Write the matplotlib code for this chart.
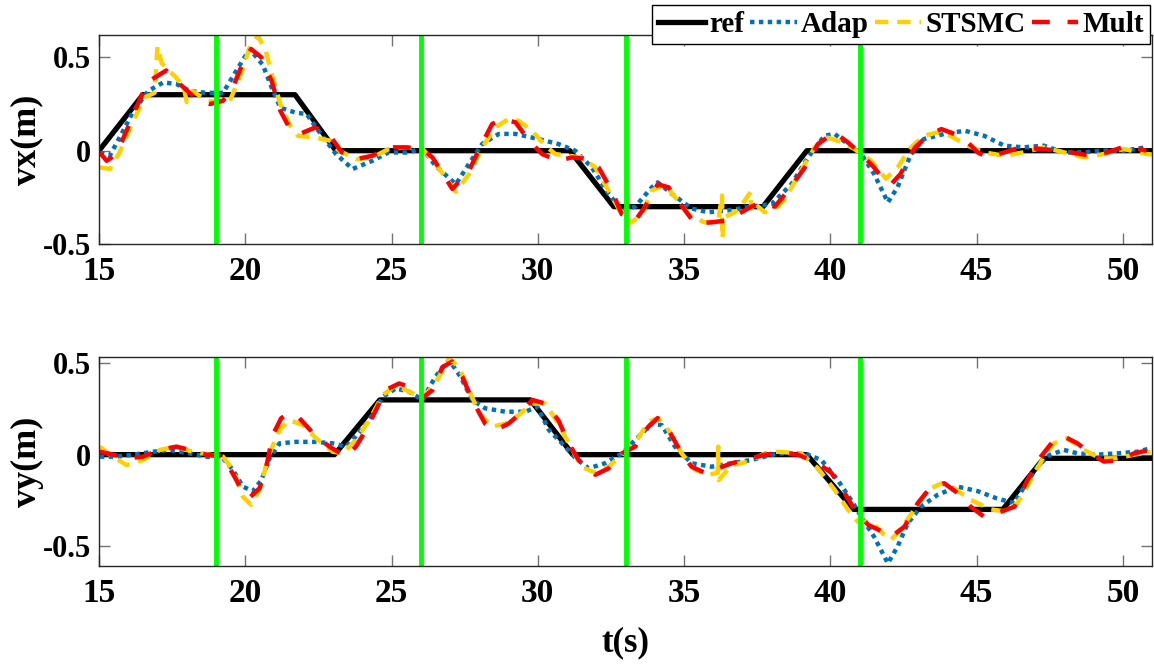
import matplotlib
matplotlib.use("Agg")
import matplotlib.pyplot as plt

# ---- data ----
t_vx_ref = [15, 16.5, 21.7, 23.1, 31.1, 32.6, 37.7, 39.2, 51]
vx_ref = [0, 0.3, 0.3, 0, 0, -0.3, -0.3, 0, 0]

t_vx_adap = [15.03, 15.375, 15.77, 16.17, 16.68, 17.2, 17.65, 18.1, 18.67, 19.24, 19.7, 20.15,
             20.6, 20.9, 21.2, 21.7, 22.1, 22.5, 23.1, 23.67, 24.35, 24.9, 25.5, 26.06, 26.5,
             27.2, 27.65, 28.1, 28.67, 29.24, 30.03, 30.7, 31.28, 31.85, 32.42, 32.87, 33.33,
             33.9, 34.1, 34.58, 35.26, 35.83, 36.5, 37.3, 37.99, 38.67, 39.24, 39.8, 40.15,
             40.6, 41.06, 41.5, 41.97, 42.3, 42.76, 43.2, 43.9, 44.6, 45.26, 45.95, 46.6, 47.3,
             47.99, 48.67, 49.35, 50.04, 50.8]
vx_adap = [-0.01, -0.025, 0.09, 0.21, 0.32, 0.366, 0.357, 0.32, 0.31, 0.31, 0.43, 0.545,
           0.46, 0.34, 0.23, 0.205, 0.196, 0.107, -0.018, -0.098, -0.054, -0.009, -0.01, 0.01, -0.08,
           -0.18, -0.07, 0.036, 0.09, 0.09, 0.0625, 0.036, 0.0, -0.09, -0.23, -0.32, -0.30,
           -0.196, -0.17, -0.23, -0.31, -0.33, -0.32, -0.30, -0.286, -0.18, -0.036, 0.08, 0.09,
           0.036, -0.018, -0.125, -0.277, -0.196, -0.018, 0.0625, 0.09, 0.107, 0.08, 0.027, 0.018, 0.027,
           -0.009, -0.009, 0.0, 0.0, 0.018]

t_vx_stsmc = [15.03, 15.375, 15.7, 16.17, 16.57, 16.9, 17.0, 17.14, 17.65, 17.9, 18.0, 18.2,
              18.67, 19.24, 19.5, 19.8, 20.15, 20.43, 20.7, 20.94, 21.2, 21.5, 21.8, 22.4, 22.9,
              23.2, 23.8, 24.35, 24.9, 25.5, 26.06, 26.5, 27.2, 27.65, 28.1, 28.56, 29.0, 29.35,
              29.8, 30.26, 30.6, 31.06, 31.5, 31.97, 32.42, 32.87, 33.2, 33.56, 33.9, 34.35, 34.7,
              35.15, 35.7, 36.17, 36.3, 36.32, 36.34, 36.85, 37.28, 37.3, 37.32, 37.76, 38.2,
              38.45, 39.0, 39.47, 39.92, 40.4, 40.83, 41.4, 41.9, 42.3, 42.76, 43.2, 43.67, 44.1,
              44.7, 45.26, 45.95, 46.6, 47.3, 47.99, 48.67, 49.35, 50.04, 50.8, 51.0]
vx_stsmc = [-0.09, -0.098, -0.01, 0.16, 0.286, 0.31, 0.56, 0.47, 0.39, 0.34, 0.26, 0.32,
            0.27, 0.25, 0.277, 0.39, 0.55, 0.616, 0.536, 0.39, 0.25, 0.143, 0.08, 0.07, 0.054,
            0.0, -0.045, -0.036, 0.009, 0.018, 0.01, -0.07, -0.22, -0.125, 0.018, 0.125, 0.17, 0.16,
            0.107, 0.027, -0.018, -0.027, -0.036, -0.09, -0.214, -0.34, -0.385, -0.34, -0.214, -0.18, -0.25,
            -0.34, -0.384, -0.375, -0.24, -0.47, -0.36, -0.32, -0.22, -0.31, -0.27, -0.33, -0.30,
            -0.26, -0.107, 0.018, 0.07, 0.045, 0.009, -0.054, -0.15, -0.09, 0.018, 0.08, 0.098, 0.08,
            0.027, -0.009, -0.027, -0.009, 0.018, -0.009, -0.036, -0.018, 0.009, -0.018, -0.02]

t_vx_mult = [15.03, 15.26, 15.6, 15.94, 16.4, 16.68, 17.3, 17.7, 18.33, 18.8, 19.24, 19.58,
             19.9, 20.2, 20.55, 20.9, 21.2, 21.5, 21.85, 22.4, 22.9, 23.3, 23.8, 24.35, 24.9,
             25.5, 26.06, 26.4, 27.08, 27.65, 28.0, 28.44, 28.8, 29.24, 29.7, 30.15, 30.7, 31.17,
             31.74, 32.08, 32.53, 32.87, 33.33, 33.67, 34.1, 34.47, 35.04, 35.37, 35.94, 36.4,
             36.85, 37.3, 37.65, 38.1, 38.56, 39.13, 39.58, 40.15, 40.6, 41.06, 41.5, 41.85,
             42.08, 42.4, 42.9, 43.33, 43.8, 44.24, 44.7, 45.04, 45.38, 45.95, 46.5, 47.2, 47.88,
             48.9, 49.47, 50.15, 50.8]
vx_mult = [-0.01, -0.054, -0.018, 0.107, 0.277, 0.37, 0.43, 0.366, 0.277, 0.25, 0.268, 0.34,
           0.464, 0.545, 0.5, 0.375, 0.214, 0.125, 0.089, 0.125, 0.08, -0.009, -0.045, -0.027, 0.018,
           0.018, 0.009, -0.036, -0.205, -0.107, 0.009, 0.143, 0.17, 0.152, 0.054, -0.018, -0.054, -0.036,
           -0.045, -0.09, -0.214, -0.34, -0.375, -0.30, -0.18, -0.196, -0.32, -0.39, -0.384, -0.375,
           -0.34, -0.30, -0.277, -0.30, -0.214, -0.09, 0.036, 0.098, 0.045, -0.018, -0.09, -0.16,
           -0.18, -0.125, 0.018, 0.08, 0.116, 0.09, 0.045, -0.009, -0.036, -0.009, 0.018, 0.009, 0.0,
           -0.027, -0.009, 0.027, 0.0]

t_vy_ref = [15, 23.05, 24.6, 29.75, 31.2, 39.2, 40.8, 45.9, 47.3, 51]
vy_ref = [0, 0, 0.3, 0.3, 0, 0, -0.3, -0.3, -0.02, -0.02]

t_vy_adap = [15.03, 15.6, 16.17, 16.85, 17.4, 18.1, 18.67, 19.24, 19.58, 19.92, 20.26, 20.55,
             20.83, 21.17, 21.74, 22.4, 22.99, 23.44, 23.78, 24.24, 24.7, 25.15, 25.6, 26.06,
             26.5, 26.97, 27.36, 27.76, 28.2, 28.9, 29.58, 29.98, 30.38, 30.83, 31.3, 31.74,
             32.3, 32.88, 33.33, 33.9, 34.24, 34.69, 35.26, 35.94, 36.63, 37.3, 38.2, 39.13,
             39.7, 40.26, 40.72, 41.06, 41.5, 41.97, 42.3, 42.65, 43.1, 43.67, 44.35, 45.04,
             45.7, 46.3, 46.63, 47.08, 47.5, 47.99, 48.45, 49.1, 49.8, 50.5, 50.95]
vy_adap = [-0.011, -0.011, 0.0, 0.016, 0.026, 0.007, -0.011, -0.02, -0.084, -0.175, -0.2, -0.14,
           -0.02, 0.062, 0.07, 0.07, 0.062, 0.044, 0.1, 0.19, 0.317, 0.363, 0.345, 0.3,
           0.427, 0.518, 0.427, 0.3, 0.254, 0.235, 0.235, 0.263, 0.135, 0.062, -0.02, -0.075,
           -0.047, 0.007, 0.08, 0.17, 0.162, 0.044, -0.047, -0.066, -0.047, -0.029, 0.007, 0.007,
           -0.03, -0.14, -0.25, -0.34, -0.45, -0.595, -0.504, -0.376, -0.285, -0.22, -0.175, -0.2,
           -0.24, -0.266, -0.175, -0.066, -0.002, 0.026, 0.007, 0.0, 0.007, 0.016, 0.035]

t_vy_stsmc = [15.03, 15.375, 15.94, 16.5, 17.08, 17.65, 18.2, 18.78, 19.24, 19.58, 19.92, 20.2,
              20.49, 20.83, 21.17, 21.5, 21.97, 22.42, 22.99, 23.33, 23.78, 24.24, 24.7, 25.15,
              25.6, 26.06, 26.5, 26.97, 27.3, 27.65, 28.0, 28.44, 28.9, 29.35, 29.81, 30.26,
              30.7, 31.06, 31.5, 31.97, 32.42, 32.88, 33.33, 33.78, 34.1, 34.47, 34.92, 35.38,
              35.83, 36.15, 36.17, 36.19, 36.63, 37.2, 37.76, 38.2, 39.0, 39.58, 40.15, 40.6,
              40.94, 41.4, 41.85, 42.08, 42.4, 42.88, 43.33, 43.8, 44.24, 44.8, 45.5, 45.95,
              46.4, 46.85, 47.3, 47.65, 48.1, 48.67, 49.24, 49.8, 50.4, 50.95]
vy_stsmc = [0.044, 0.0, -0.057, -0.03, 0.026, 0.044, 0.016, 0.0, -0.011, -0.084, -0.23, -0.275,
            -0.19, 0.007, 0.135, 0.19, 0.162, 0.09, 0.016, 0.007, 0.08, 0.19, 0.327, 0.38,
            0.345, 0.31, 0.39, 0.527, 0.48, 0.354, 0.226, 0.153, 0.17, 0.217, 0.28, 0.28,
            0.17, 0.062, -0.066, -0.1, -0.066, 0.0, 0.062, 0.18, 0.2, 0.135, 0.007, -0.084,
            -0.11, -0.1, 0.044, -0.139, -0.057, -0.038, 0.007, 0.016, 0.007, -0.075, -0.193, -0.3,
            -0.367, -0.367, -0.44, -0.467, -0.41, -0.3, -0.193, -0.157, -0.184, -0.248, -0.3, -0.31,
            -0.266, -0.14, -0.011, 0.062, 0.09, 0.026, -0.02, -0.02, 0.0, 0.016]

t_vy_mult = [15.03, 15.5, 15.94, 16.5, 17.08, 17.65, 18.1, 18.67, 19.24, 19.7, 19.92, 20.15,
             20.49, 20.72, 20.94, 21.23, 21.5, 21.85, 22.42, 22.88, 23.44, 23.78, 24.13, 24.47,
             24.8, 25.26, 25.6, 26.06, 26.4, 26.74, 27.08, 27.42, 27.76, 28.2, 28.56, 29.0,
             29.47, 29.81, 30.26, 30.7, 31.06, 31.4, 31.97, 32.42, 32.88, 33.33, 33.78, 34.1,
             34.47, 34.92, 35.26, 35.72, 36.17, 36.63, 37.3, 37.76, 38.2, 38.9, 39.58, 40.04,
             40.49, 40.83, 41.3, 41.63, 42.08, 42.54, 42.99, 43.45, 43.9, 44.35, 44.8, 45.26,
             45.7, 46.3, 46.74, 47.2, 47.65, 47.99, 48.45, 48.9, 49.35, 49.9, 50.38, 50.95]
vy_mult = [0.016, 0.0, -0.02, -0.011, 0.026, 0.044, 0.026, 0.0, -0.011, -0.14, -0.21, -0.235,
           -0.184, -0.066, 0.108, 0.2, 0.226, 0.2, 0.1, 0.044, -0.011, 0.044, 0.135, 0.245,
           0.354, 0.39, 0.372, 0.31, 0.354, 0.48, 0.51, 0.427, 0.3, 0.17, 0.135, 0.17,
           0.235, 0.3, 0.28, 0.19, 0.062, -0.03, -0.11, -0.075, 0.007, 0.044, 0.153, 0.2,
           0.135, 0.007, -0.066, -0.1, -0.075, -0.047, -0.02, 0.0, 0.007, 0.0, -0.047, -0.1,
           -0.21, -0.3, -0.385, -0.41, -0.45, -0.394, -0.266, -0.175, -0.157, -0.21, -0.285, -0.34,
           -0.32, -0.285, -0.14, -0.011, 0.08, 0.1, 0.062, 0.007, -0.038, -0.03, 0.007, 0.026]

switch_times = [19, 26, 33, 41]
x_ticks = [15, 20, 25, 30, 35, 40, 45, 50]
y_ticks = [-0.5, 0, 0.5]
y_tick_labels = ['-0.5', '0', '0.5']

# ---- style ----
plt.rcParams['font.family'] = 'Liberation Serif'
plt.rcParams['font.weight'] = 'bold'
plt.rcParams['axes.unicode_minus'] = False

c_blue = '#0072BD'
c_yellow = '#FFD000'
c_red = '#FF0000'
c_green = '#00FF00'
lw = 3.2

fig = plt.figure(figsize=(11.54, 6.67), dpi=100)
ax1 = fig.add_axes([99/1154, 1-244/667, 1053/1154, 209/667])
ax2 = fig.add_axes([99/1154, 1-566/667, 1053/1154, 209/667])

panels = [
    (ax1, t_vx_ref, vx_ref, t_vx_adap, vx_adap, t_vx_stsmc, vx_stsmc, t_vx_mult, vx_mult, (-0.5, 0.62)),
    (ax2, t_vy_ref, vy_ref, t_vy_adap, vy_adap, t_vy_stsmc, vy_stsmc, t_vy_mult, vy_mult, (-0.61, 0.535)),
]

handles = None
for ax, tr, r, ta, a, ts, s, tm, m, ylim in panels:
    h_ref, = ax.plot(tr, r, color='black', lw=lw + 0.6, label='ref')
    h_adap, = ax.plot(ta, a, color=c_blue, lw=lw, dashes=(1, 1), label='Adap')
    h_st, = ax.plot(ts, s, color=c_yellow, lw=lw, dashes=(3, 2), label='STSMC')
    h_mu, = ax.plot(tm, m, color=c_red, lw=lw, dashes=(4, 4), label='Mult')
    for ts_ in switch_times:
        ax.axvline(ts_, color=c_green, lw=3.5)
    handles = [h_ref, h_adap, h_st, h_mu]

    ax.set_xlim(15, 51)
    ax.set_ylim(*ylim)
    ax.set_xticks(x_ticks)
    ax.set_yticks(y_ticks)
    ax.set_yticklabels(y_tick_labels)
    ax.tick_params(direction='in', top=True, right=True, length=8, width=1,
                   color='0.45')
    ax.tick_params(axis='x', pad=9, labelsize=24)
    ax.tick_params(axis='y', pad=6, labelsize=22)
    for sp in ax.spines.values():
        sp.set_color('0.15')
        sp.set_linewidth(1)

fig.text(27/1154, 1-140/667, 'vx(m)', rotation=90, ha='center', va='center', fontsize=26)
fig.text(27/1154, 1-462/667, 'vy(m)', rotation=90, ha='center', va='center', fontsize=26)
fig.text(626/1154, 1-643/667, 't(s)', ha='center', va='center', fontsize=25)

leg = fig.legend(handles, ['ref', 'Adap', 'STSMC', 'Mult'], loc='upper right',
                 bbox_to_anchor=(1150/1154, 1-5/667), ncol=4, fontsize=21, frameon=True,
                 fancybox=False, edgecolor='black', framealpha=1, handlelength=1.6,
                 handletextpad=0.15, columnspacing=0.2, borderpad=0.2, borderaxespad=0)
leg.get_frame().set_linewidth(1)

fig.savefig('out.png', dpi=100)
